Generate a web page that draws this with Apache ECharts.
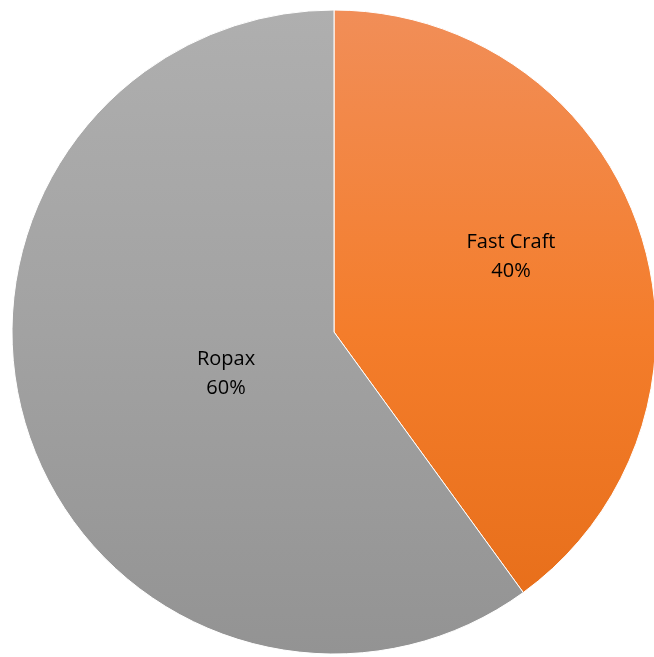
<!DOCTYPE html>
<html><head><meta charset="utf-8">
<script src="https://cdn.jsdelivr.net/npm/echarts@6/dist/echarts.min.js"></script>
<style>html,body{margin:0;padding:0;background:#fff}#c{width:654px;height:657px}</style>
</head><body><div id="c"></div>
<script>
const categories = ['Fast Craft', 'Ropax'];
const values = [40, 60];
const gradients = [['#F18E58', '#F47D2B', '#E56C17'], ['#AFAFAF', '#A2A2A2', '#939393']];
const labelOffsets = [[21, -25], [48, -9]];
const chart = echarts.init(document.getElementById('c'), null, {renderer: 'canvas'});
const data = categories.map((name, i) => ({
  name, value: values[i],
  itemStyle: {color: {type: 'linear', x: 0, y: 10, x2: 0, y2: 655, global: true,
    colorStops: [{offset: 0, color: gradients[i][0]}, {offset: 0.5, color: gradients[i][1]}, {offset: 1, color: gradients[i][2]}]}},
  label: {offset: labelOffsets[i]}
}));
chart.setOption({
  animation: false,
  series: [{
    type: 'pie', center: [334, 332], radius: [0, 322], startAngle: 90, clockwise: true,
    itemStyle: {borderColor: '#ffffff', borderWidth: 1},
    label: {show: true, position: 'inside', formatter: p => p.name + '\n' + Math.round(p.percent) + '%',
      color: '#000', fontSize: 20, lineHeight: 29, fontFamily: '"Open Sans", Lato, sans-serif'},
    labelLine: {show: false},
    emphasis: {disabled: true},
    data
  }]
});
</script></body></html>
